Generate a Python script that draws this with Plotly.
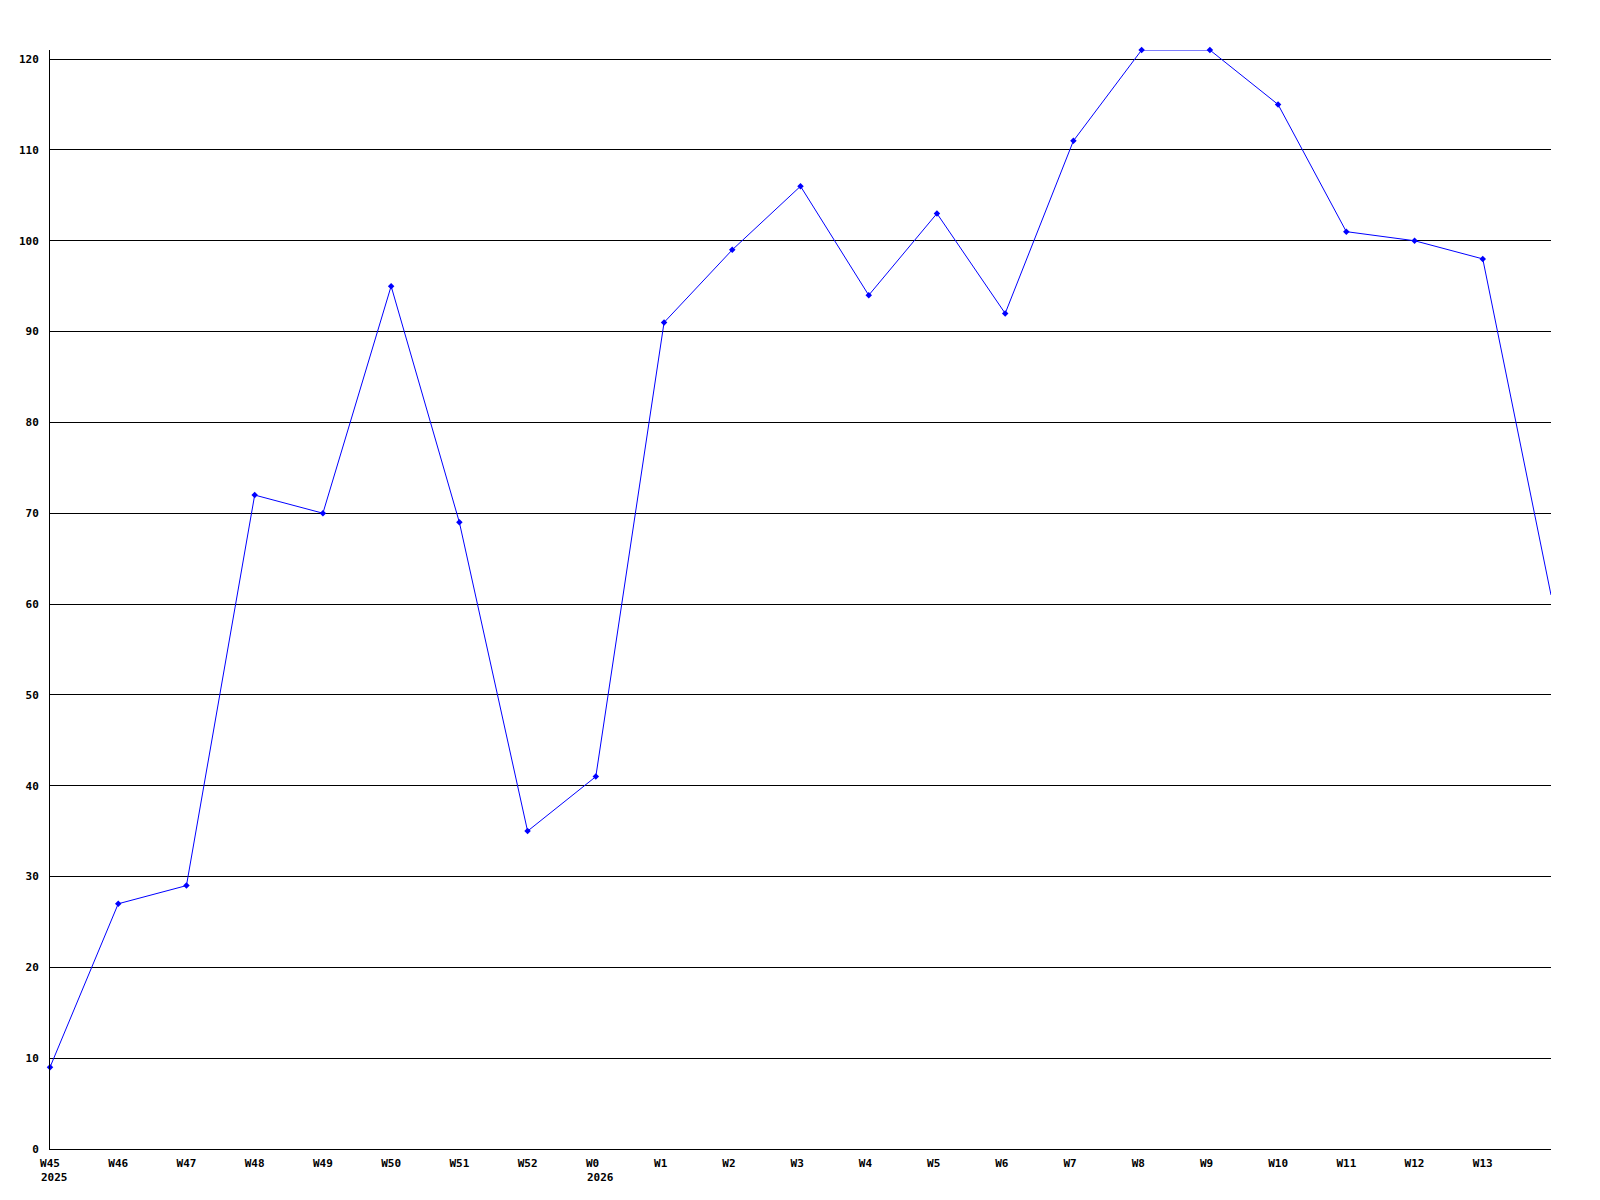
import plotly.graph_objects as go

weeks = ["W45", "W46", "W47", "W48", "W49", "W50", "W51", "W52", "W0", "W1", "W2",
         "W3", "W4", "W5", "W6", "W7", "W8", "W9", "W10", "W11", "W12", "W13"]
years = {"W45": "2025", "W0": "2026"}
values = [9, 27, 29, 72, 70, 95, 69, 35, 41, 91, 99, 106, 94, 103, 92, 111, 121, 121,
          115, 101, 100, 98]
last_partial = 61
y_ticks = [0, 10, 20, 30, 40, 50, 60, 70, 80, 90, 100, 110, 120]

xs = list(range(len(weeks)))
font = dict(family="DejaVu Sans Mono", size=11, color="black", weight="bold")
# labels are left-aligned in the original; pad short ones so centring matches
tick_text = [w.ljust(3, "\u00a0") for w in weeks]

fig = go.Figure()
fig.add_trace(go.Scatter(
    x=xs + [len(weeks)], y=values + [last_partial], mode="lines",
    line=dict(color="#0000ff", width=1), hoverinfo="skip", cliponaxis=False))
fig.add_trace(go.Scatter(
    x=xs, y=values, mode="markers", cliponaxis=False,
    marker=dict(color="#0000ff", size=5, symbol="diamond"), hoverinfo="skip"))

for i, w in enumerate(weeks):
    if w in years:
        fig.add_annotation(x=i, y=0, xref="x", yref="y", text=years[w],
                           showarrow=False, xanchor="left", yanchor="top",
                           xshift=-11, yshift=-20, font=font)

fig.update_layout(
    width=1600, height=1200,
    margin=dict(l=42, r=57, t=42, b=59),
    plot_bgcolor="white", paper_bgcolor="white",
    showlegend=False,
    font=font,
)
fig.update_xaxes(
    range=[0, len(weeks)], tickmode="array", tickvals=xs, ticktext=tick_text,
    showgrid=False, zeroline=False, showline=True, linecolor="black", linewidth=1,
    ticks="", tickfont=font, ticklabelstandoff=4,
)
fig.update_yaxes(
    range=[0, 121], tickmode="array", tickvals=y_ticks,
    ticktext=[str(v) for v in y_ticks],
    showgrid=True, gridcolor="black", gridwidth=1, zeroline=False,
    showline=True, linecolor="black", linewidth=1, ticks="", tickfont=font,
    ticklabelstandoff=8,
)
fig.write_html("out.html")
